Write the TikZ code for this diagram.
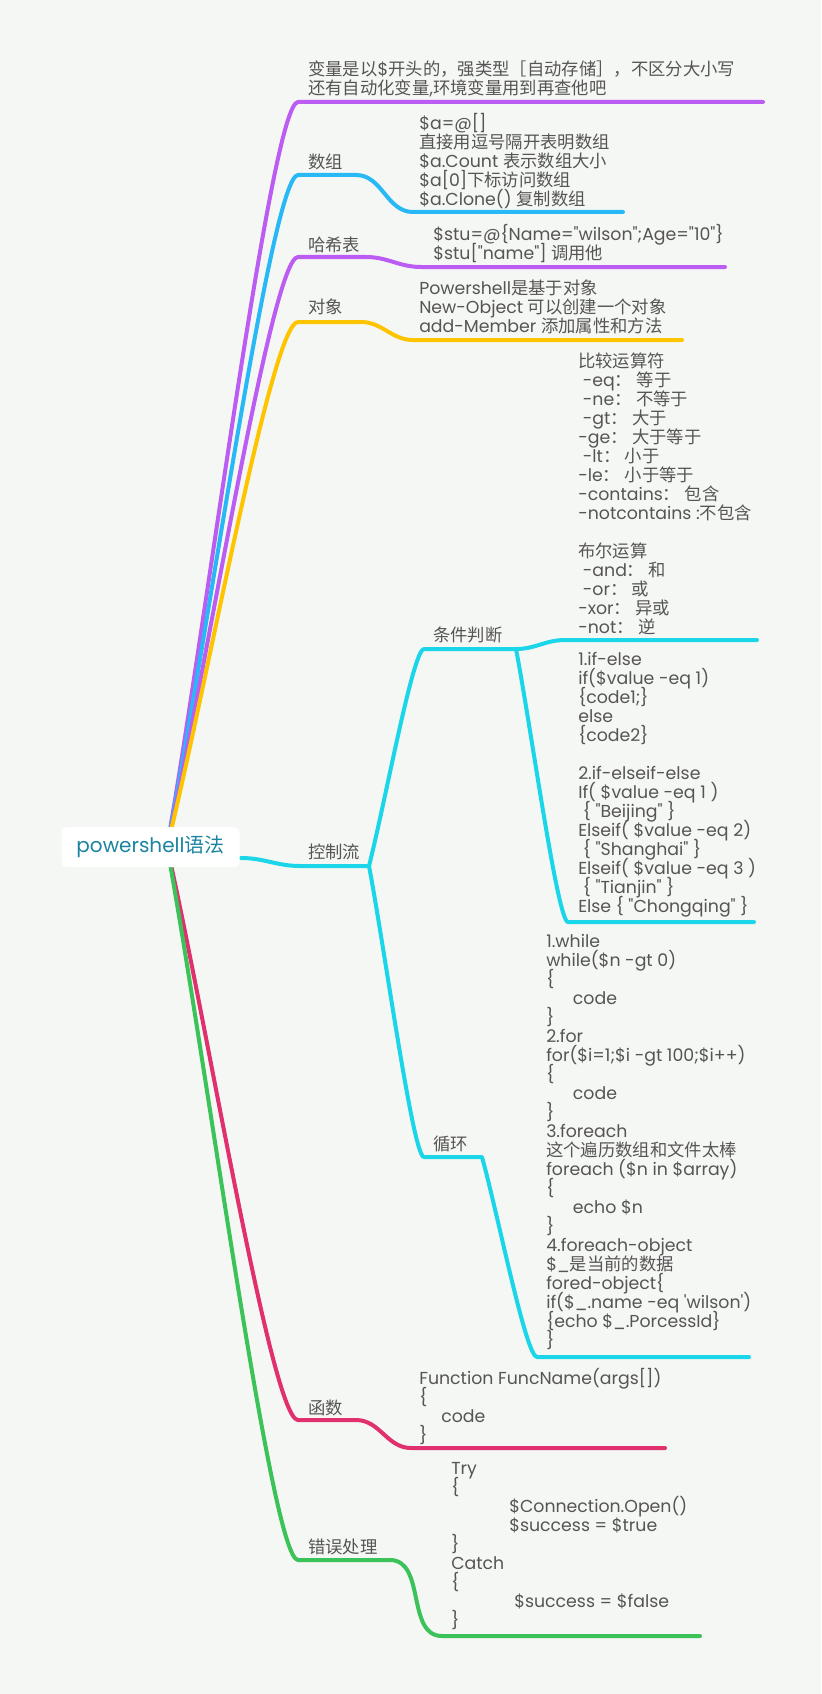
\documentclass[tikz,border=0pt]{standalone}
\usepackage{fontspec}
\usetikzlibrary{calc}
\newfontfamily\latinfont{Poppins}
\newfontfamily\cjkfont{Noto Sans CJK SC}
% chinese characters are set in the CJK font
\newXeTeXintercharclass\cjkclass
\makeatletter
\count@="21 \loop\XeTeXcharclass\count@=0 \ifnum\count@<"7E \advance\count@\@ne\repeat
\count@="3000 \loop\XeTeXcharclass\count@=\cjkclass\ifnum\count@<"303F \advance\count@\@ne\repeat
\count@="4E00 \loop\XeTeXcharclass\count@=\cjkclass\ifnum\count@<"9FFF \advance\count@\@ne\repeat
\count@="FF00 \loop\XeTeXcharclass\count@=\cjkclass\ifnum\count@<"FFEF \advance\count@\@ne\repeat
\makeatother
\XeTeXinterchartoks 0 \cjkclass={\cjkfont}
\XeTeXinterchartoks 4095 \cjkclass={\cjkfont}
\XeTeXinterchartoks \cjkclass 0={\latinfont}
\XeTeXinterchartoks \cjkclass 4095={\latinfont}
\XeTeXinterchartokenstate=1
% keep the lines evenly spaced
\setlength\lineskiplimit{-50pt}
\setlength\normallineskiplimit{-50pt}
% colours
\definecolor{paper}{RGB}{245,247,244}
\definecolor{ink}{RGB}{85,85,85}
\definecolor{rootink}{RGB}{27,132,160}
\definecolor{violet1}{RGB}{187,92,242}
\definecolor{sky}{RGB}{41,184,246}
\definecolor{amber}{RGB}{255,196,0}
\definecolor{aqua}{RGB}{26,214,232}
\definecolor{rose}{RGB}{224,48,110}
\definecolor{leaf}{RGB}{59,195,90}
\begin{document}
\begin{tikzpicture}[x=0.75pt, y=-0.75pt,
    every node/.style={inner sep=0pt, text=ink, font=\latinfont\fontsize{13pt}{14.25pt}\selectfont},
    note/.style={anchor=west, align=left},
    topic/.style={anchor=west},
    rootbox/.style={fill=white, rounded corners=3.75pt, minimum width=133.5pt, minimum height=30pt,
        text=rootink, font=\latinfont\fontsize{15pt}{18pt}\selectfont},
    limb/.style={line width=3pt, line cap=round, line join=round},
    branch/.style={to path={let \p1=(\tikztostart), \p2=(\tikztotarget) in
        .. controls ($(\p1)!0.3!(\p2)$) and ({\x2-0.2*(\x2-\x1)},\y2) .. (\p2)}},
    wave/.style={out=0, in=180}]
    % background
    \fill[paper] (0,0) rectangle (821,1694);
    \coordinate (hub) at (167,847);
    % variables
    \coordinate (var-a) at (298,102);
    \coordinate (var-b) at (763,102);
    \draw[limb, violet1] (hub) to[branch] (var-a) -- (var-b);
    \node[note] (var) at (308,78.5) {变量是以\$开头的，强类型［自动存储］，不区分大小写\\还有自动化变量,环境变量用到再查他吧};
    % arrays
    \coordinate (arr-a) at (298,175);
    \coordinate (arr-b) at (356,175);
    \coordinate (arr-c) at (413,212);
    \coordinate (arr-d) at (623,212);
    \draw[limb, sky] (hub) to[branch] (arr-a) -- (arr-b) to[wave] (arr-c) -- (arr-d);
    \node[topic] (arr) at (308,162) {数组};
    \node[note] (arr-text) at (419,161) {\$a=@[]\\直接用逗号隔开表明数组\\\$a.Count 表示数组大小\\\$a[0]下标访问数组\\\$a.Clone() 复制数组};
    % hash tables
    \coordinate (hsh-a) at (298,257);
    \coordinate (hsh-b) at (366,257);
    \coordinate (hsh-c) at (421,267);
    \coordinate (hsh-d) at (725,267);
    \draw[limb, violet1] (hub) to[branch] (hsh-a) -- (hsh-b) to[wave] (hsh-c) -- (hsh-d);
    \node[topic] (hsh) at (308,245) {哈希表};
    \node[note] (hsh-text) at (433,243.5) {\$stu=@\{Name="wilson";Age="10"\}\\\$stu["name"] 调用他};
    % objects
    \coordinate (obj-a) at (298,322);
    \coordinate (obj-b) at (361,322);
    \coordinate (obj-c) at (413,340);
    \coordinate (obj-d) at (682,340);
    \draw[limb, amber] (hub) to[branch] (obj-a) -- (obj-b) to[wave] (obj-c) -- (obj-d);
    \node[topic] (obj) at (308,307) {对象};
    \node[note] (obj-text) at (419,307) {Powershell是基于对象\\New-Object 可以创建一个对象\\add-Member 添加属性和方法};
    % functions
    \coordinate (fun-a) at (298,1420);
    \coordinate (fun-b) at (356,1420);
    \coordinate (fun-c) at (411,1448);
    \coordinate (fun-d) at (665,1448);
    \draw[limb, rose] (hub) to[branch] (fun-a) -- (fun-b) to[wave] (fun-c) -- (fun-d);
    \node[topic] (fun) at (308,1408) {函数};
    \node[note] (fun-text) at (419,1406.5) {Function FuncName(args[])\\\{\\\hspace*{16.5pt}code\\\}};
    % error handling
    \coordinate (err-a) at (298,1560);
    \coordinate (err-b) at (390,1560);
    \coordinate (err-c) at (442,1636);
    \coordinate (err-d) at (700,1636);
    \draw[limb, leaf] (hub) to[branch] (err-a) -- (err-b) to[wave] (err-c) -- (err-d);
    \node[topic] (err) at (308,1547) {错误处理};
    \node[note] (err-text) at (451,1546) {Try\\\{\\\hspace*{43.5pt}\$Connection.Open()\\\hspace*{43.5pt}\$success = \$true\\\}\\Catch\\\{\\\hspace*{47.25pt}\$success = \$false\\\}};
    % control flow
    \coordinate (ctl-in) at (241,858);
    \coordinate (ctl-a) at (300,866);
    \coordinate (ctl-b) at (369,866);
    \draw[limb, aqua] (ctl-in) to[wave] (ctl-a) -- (ctl-b);
    \node[topic] (ctl) at (308,852) {控制流};
    % conditions
    \coordinate (cnd-a) at (424,649);
    \coordinate (cnd-b) at (516,649);
    \coordinate (cnd-c) at (565,640);
    \coordinate (cnd-d) at (757,640);
    \coordinate (cnd-e) at (568,922);
    \coordinate (cnd-f) at (754,922);
    \draw[limb, aqua] (ctl-b) to[branch] (cnd-a) -- (cnd-b) to[wave] (cnd-c) -- (cnd-d);
    \draw[limb, aqua] (cnd-b) to[branch] (cnd-e) -- (cnd-f);
    \node[topic] (cnd) at (433,635) {条件判断};
    \node[note] (ops) at (578,494) {比较运算符\\\ -eq： 等于\\\ -ne： 不等于\\\ -gt： 大于\\-ge： 大于等于\\\ -lt： 小于\\-le： 小于等于\\-contains： 包含\\-notcontains :不包含\\[14.25pt]布尔运算\\\ -and： 和\\\ -or： 或\\-xor： 异或\\-not： 逆};
    \node[note] (ifs) at (578,784.5) {1.if-else\\if(\$value -eq 1)\\\{code1;\}\\else\\\{code2\}\\[14.25pt]2.if-elseif-else\\If( \$value -eq 1 )\\\ \{ "Beijing" \}\\Elseif( \$value -eq 2)\\\ \{ "Shanghai" \}\\Elseif( \$value -eq 3 )\\\ \{ "Tianjin" \}\\Else \{ "Chongqing" \}};
    % loops
    \coordinate (lop-a) at (424,1157);
    \coordinate (lop-b) at (482,1157);
    \coordinate (lop-c) at (537,1357);
    \coordinate (lop-d) at (749,1357);
    \draw[limb, aqua] (ctl-b) to[branch] (lop-a) -- (lop-b) to[branch] (lop-c) -- (lop-d);
    \node[topic] (lop) at (433,1144) {循环};
    \node[note] (lop-text) at (546,1142.5) {1.while\\while(\$n -gt 0)\\\{\\\hspace*{20pt}code\\\}\\2.for\\for(\$i=1;\$i -gt 100;\$i++)\\\{\\\hspace*{20pt}code\\\}\\3.foreach\\这个遍历数组和文件太棒\\foreach (\$n in \$array)\\\{\\\hspace*{20pt}echo \$n\\\}\\4.foreach-object\\\$\_是当前的数据\\fored-object\{\\if(\$\_.name -eq 'wilson')\\\{echo \$\_.PorcessId\}\\\}};
    % root
    \node[rootbox] (root) at (150.5,847) {powershell语法};
\end{tikzpicture}
\end{document}
